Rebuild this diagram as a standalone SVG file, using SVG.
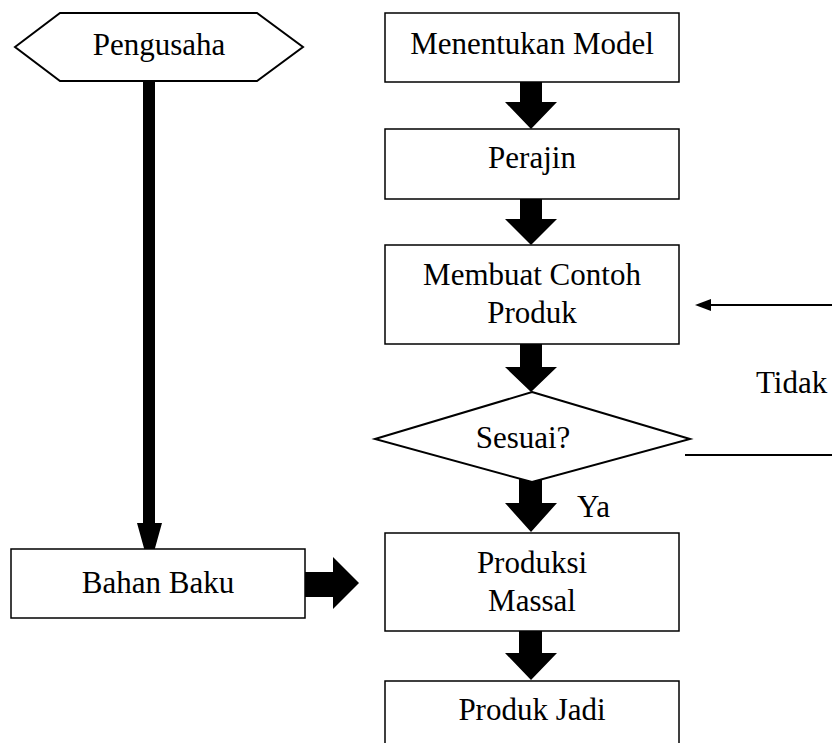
<svg xmlns="http://www.w3.org/2000/svg" width="832" height="743" viewBox="0 0 832 743">
  <defs>
    <style>
      .box { fill: #fff; stroke: #000; stroke-width: 1.5; }
      .shape { fill: #fff; stroke: #000; stroke-width: 2; }
      .fat { fill: #000; stroke: none; }
      .line { fill: none; stroke: #000; stroke-width: 2; }
      .c { text-anchor: middle; }
    </style>
  </defs>

  <rect width="832" height="743" fill="#fff"/>

  <!-- connectors -->
  <g id="connectors">
    <!-- Pengusaha down to Bahan Baku -->
    <polygon class="fat" points="143,78 155,78 155,523 162,523 149.5,568 137,523 143,523"/>
    <!-- Menentukan Model -> Perajin -->
    <polygon class="fat" points="520,82 542,82 542,102 557,102 531,129 505,102 520,102"/>
    <!-- Perajin -> Membuat Contoh Produk -->
    <polygon class="fat" points="520,199 542,199 542,219 557,219 531,245 505,219 520,219"/>
    <!-- Membuat Contoh Produk -> Sesuai? -->
    <polygon class="fat" points="520,344 542,344 542,367 557,367 531,392 505,367 520,367"/>
    <!-- Sesuai? -> Produksi Massal -->
    <polygon class="fat" points="519,478 542,478 542,503 557,503 531,532 505,503 519,503"/>
    <!-- Produksi Massal -> Produk Jadi -->
    <polygon class="fat" points="519,631 542,631 542,653 557,653 531,680 505,653 519,653"/>
    <!-- Bahan Baku -> Produksi Massal -->
    <polygon class="fat" points="305,572 333,572 333,557 359,583 333,609 333,597 305,597"/>
    <!-- Tidak loop -->
    <line class="line" x1="685" y1="455" x2="832" y2="455"/>
    <line class="line" x1="832" y1="305" x2="710" y2="305"/>
    <polygon class="fat" points="695,305 711,299 711,311"/>
  </g>

  <g font-family="'Liberation Serif', 'DejaVu Serif', 'Times New Roman', serif" font-size="31" fill="#000">
    <g id="pengusaha">
      <polygon class="shape" points="15,47 60,13 257,13 303,47 257,81 60,81"/>
      <text class="c" x="159" y="55">Pengusaha</text>
    </g>

    <g id="menentukan-model">
      <rect class="box" x="385" y="13" width="294" height="69"/>
      <text class="c" x="532" y="54">Menentukan Model</text>
    </g>

    <g id="perajin">
      <rect class="box" x="385" y="129" width="294" height="70"/>
      <text class="c" x="532" y="168">Perajin</text>
    </g>

    <g id="membuat-contoh">
      <rect class="box" x="385" y="245" width="294" height="99"/>
      <text class="c" x="532" y="285">Membuat Contoh</text>
      <text class="c" x="532" y="323">Produk</text>
    </g>

    <g id="sesuai">
      <polygon class="shape" points="532,392 690,439 532,482 375,439"/>
      <text class="c" x="523" y="448">Sesuai?</text>
    </g>

    <g id="bahan-baku">
      <rect class="box" x="11" y="549" width="294" height="69"/>
      <text class="c" x="158" y="593">Bahan Baku</text>
    </g>

    <g id="produksi-massal">
      <rect class="box" x="385" y="533" width="294" height="98"/>
      <text class="c" x="532" y="573">Produksi</text>
      <text class="c" x="532" y="611">Massal</text>
    </g>

    <g id="produk-jadi">
      <rect class="box" x="385" y="681" width="294" height="80"/>
      <text class="c" x="532" y="720">Produk Jadi</text>
    </g>

    <g id="labels">
      <text x="577" y="517">Ya</text>
      <text x="756" y="393">Tidak</text>
    </g>
  </g>
</svg>
